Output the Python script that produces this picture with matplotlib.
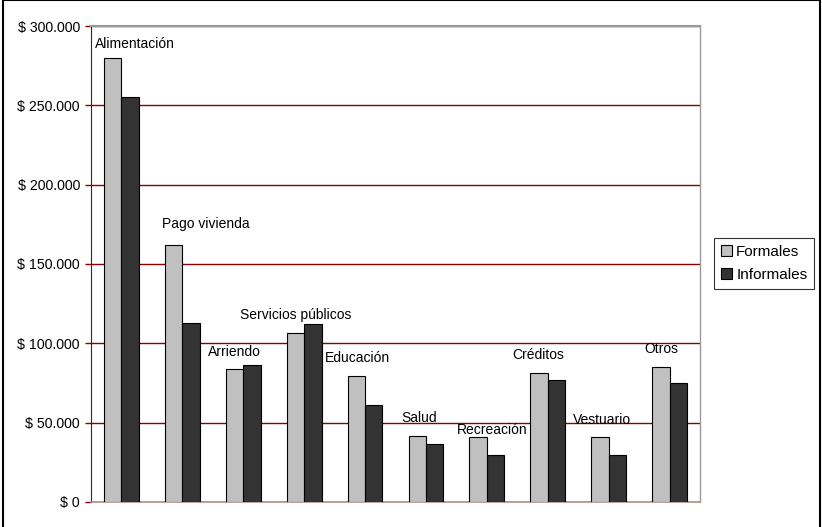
import matplotlib
matplotlib.use("Agg")
import matplotlib.pyplot as plt
import numpy as np
from matplotlib.patches import Rectangle
from matplotlib.ticker import FuncFormatter

plt.rcParams['font.family'] = ['Liberation Sans', 'DejaVu Sans']

categories = ["Alimentación", "Pago vivienda", "Arriendo", "Servicios públicos",
              "Educación", "Salud", "Recreación", "Créditos", "Vestuario", "Otros"]
formales = [280000, 162000, 84000, 106500, 79600, 41600, 40700, 81500, 40700, 85300]
informales = [255400, 113000, 86100, 112200, 61100, 36800, 29400, 76700, 29400, 74800]
series_names = ["Formales", "Informales"]

# placement of the category captions (x offset from group centre, y in data units)
label_dx = [0.22, 0.39, -0.14, -0.14, -0.13, -0.11, 0.09, -0.15, -0.11, -0.13]
label_y = [288600, 175000, 94700, 117800, 90500, 52700, 45400, 92600, 51700, 96200]

W, H = 822, 527
fig = plt.figure(figsize=(W / 100, H / 100), dpi=100)
fig.patch.set_facecolor("white")

left, right, top, bottom = 91, 700, 26, 502
ax = fig.add_axes([left / W, 1 - bottom / H, (right - left) / W, (bottom - top) / H])

x = np.arange(len(categories))
bw = 1 / 3.5
ax.bar(x - bw / 2, formales, width=bw, color="#C0C0C0", edgecolor="black",
       linewidth=0.8, label=series_names[0], zorder=3)
ax.bar(x + bw / 2, informales, width=bw, color="#333333", edgecolor="black",
       linewidth=0.8, label=series_names[1], zorder=3)

for i, name in enumerate(categories):
    ax.text(i + label_dx[i], label_y[i], name, ha="center", va="center",
            fontsize=10, color="black", zorder=4)

ax.set_xlim(-0.5, len(categories) - 0.5)
ax.set_ylim(0, 300000)
ax.set_yticks(np.arange(0, 300001, 50000))
ax.yaxis.set_major_formatter(FuncFormatter(
    lambda v, p: "$ 0" if v == 0 else "$ " + f"{int(v):,}".replace(",", ".")))
ax.tick_params(axis="y", direction="out", length=4, width=1, color="#8B0000",
               labelsize=10.2, pad=4)
ax.tick_params(axis="x", bottom=False, labelbottom=False)
ax.yaxis.grid(True, color="#8B0000", linewidth=1)
ax.set_axisbelow(True)

ax.spines["left"].set_color("#8B0000")
ax.spines["top"].set_color("#999999")
ax.spines["top"].set_linewidth(1.5)
ax.spines["right"].set_color("#999999")
ax.spines["right"].set_linewidth(1.0)
ax.spines["bottom"].set_color("#b09090")
ax.spines["bottom"].set_linewidth(1.2)

leg = ax.legend(loc="center left", bbox_to_anchor=(714 / W, 1 - 263.5 / H),
                bbox_transform=fig.transFigure, frameon=True, fancybox=False,
                edgecolor="black", fontsize=11, handlelength=0.7,
                handleheight=0.7, handletextpad=0.3, borderpad=0.45,
                labelspacing=0.6, borderaxespad=0)
leg.get_frame().set_linewidth(0.8)

# outer chart border
fig.add_artist(Rectangle((3 / W, -0.01), (820 - 3) / W, 1.0095, transform=fig.transFigure,
                         fill=False, edgecolor="black", linewidth=1.5))

fig.savefig("out.png", dpi=100)
